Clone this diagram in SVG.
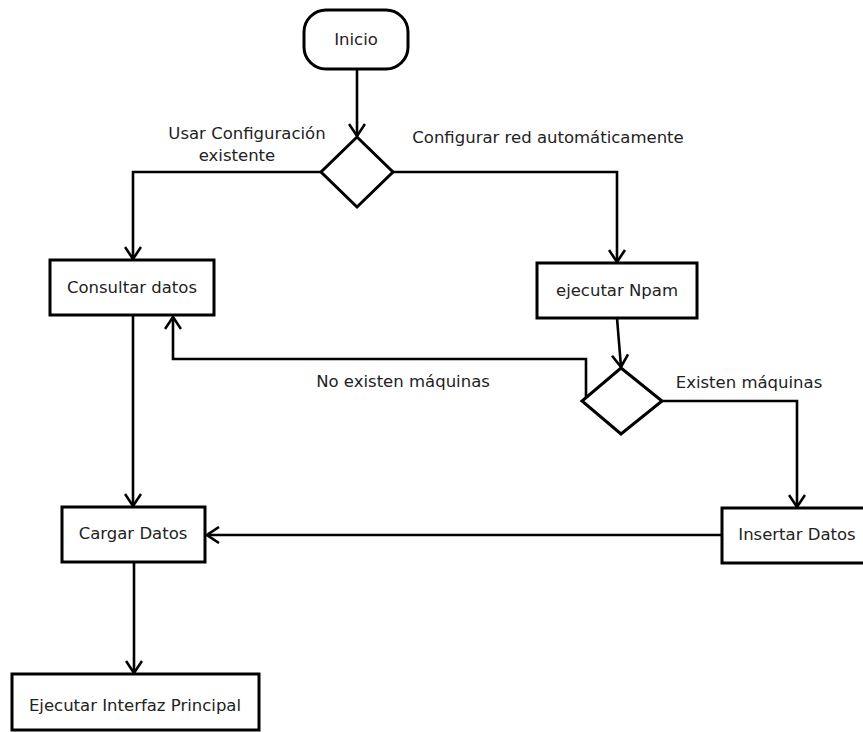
<svg xmlns="http://www.w3.org/2000/svg" width="863" height="732" viewBox="0 0 863 732">
  <style>
    .shape { fill: #ffffff; stroke: #000000; stroke-width: 3; }
    .edge { fill: none; stroke: #000000; stroke-width: 2.6; stroke-linejoin: miter; }
    .lbl { font-family: "DejaVu Sans", "Liberation Sans", sans-serif; font-size: 16.5px; fill: #222222; text-anchor: middle; }
  </style>
  <defs>
    <marker id="arrow" viewBox="0 0 14 18" refX="13" refY="9" markerWidth="14" markerHeight="18" markerUnits="userSpaceOnUse" orient="auto">
      <path d="M1,1 L13,9 L1,17" fill="none" stroke="#000000" stroke-width="2.6"/>
    </marker>
  </defs>
  <rect width="863" height="732" fill="#ffffff"/>

  <g id="connectors">
    <path class="edge" d="M357,69 L357,136" marker-end="url(#arrow)"/>
    <path class="edge" d="M321,172 L133,172 L133,259" marker-end="url(#arrow)"/>
    <path class="edge" d="M393,172 L617,172 L617,262" marker-end="url(#arrow)"/>
    <path class="edge" d="M617,318 L621,367" marker-end="url(#arrow)"/>
    <path class="edge" d="M586,398 L586,359 L173,359 L173,317" marker-end="url(#arrow)"/>
    <path class="edge" d="M662,401 L797,401 L797,507" marker-end="url(#arrow)"/>
    <path class="edge" d="M722,535 L207,535" marker-end="url(#arrow)"/>
    <path class="edge" d="M133,315 L133,506" marker-end="url(#arrow)"/>
    <path class="edge" d="M134,562 L134,673" marker-end="url(#arrow)"/>
    <text class="lbl" x="247" y="139">Usar Configuración</text>
    <text class="lbl" x="237" y="161">existente</text>
    <text class="lbl" x="548" y="143">Configurar red automáticamente</text>
    <text class="lbl" x="403" y="387">No existen máquinas</text>
    <text class="lbl" x="749" y="388">Existen máquinas</text>
  </g>

  <g id="inicio">
    <rect class="shape" x="304" y="10" width="104" height="59" rx="22" ry="22"/>
    <text class="lbl" x="356" y="45">Inicio</text>
  </g>

  <g id="decision-config">
    <polygon class="shape" points="357,137 393,172 357,207 321,172"/>
  </g>

  <g id="consultar-datos">
    <rect class="shape" x="50" y="260" width="164" height="55"/>
    <text class="lbl" x="132" y="293">Consultar datos</text>
  </g>

  <g id="ejecutar-npam">
    <rect class="shape" x="537" y="263" width="160" height="55"/>
    <text class="lbl" x="617" y="296">ejecutar Npam</text>
  </g>

  <g id="decision-maquinas">
    <polygon class="shape" points="621,368 662,401 621,434 582,401"/>
  </g>

  <g id="insertar-datos">
    <rect class="shape" x="722" y="508" width="150" height="55"/>
    <text class="lbl" x="797" y="540">Insertar Datos</text>
  </g>

  <g id="cargar-datos">
    <rect class="shape" x="62" y="507" width="143" height="55"/>
    <text class="lbl" x="133" y="539">Cargar Datos</text>
  </g>

  <g id="ejecutar-interfaz">
    <rect class="shape" x="12" y="674" width="247" height="56"/>
    <text class="lbl" x="135" y="711">Ejecutar Interfaz Principal</text>
  </g>
</svg>
